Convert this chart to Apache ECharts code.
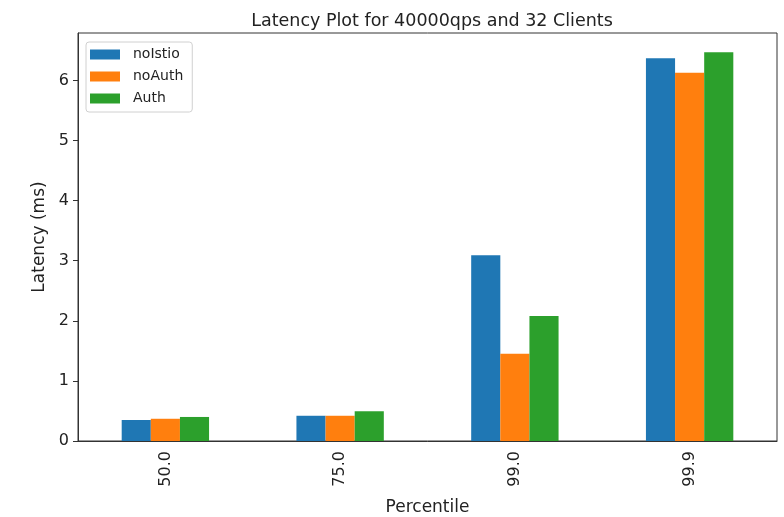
<!DOCTYPE html>
<html>
<head>
<meta charset="utf-8">
<script src="https://cdn.jsdelivr.net/npm/echarts@6/dist/echarts.min.js"></script>
<style>
  html, body { margin: 0; padding: 0; background: #fff; }
  #chart { width: 784px; height: 517px; }
</style>
</head>
<body>
<div id="chart"></div>
<script>
// Latency percentiles (ms) per deployment mode
const percentiles = ['50.0', '75.0', '99.0', '99.9'];
const noIstio = [0.35, 0.42, 3.09, 6.37];
const noAuth  = [0.37, 0.42, 1.45, 6.13];
const auth    = [0.40, 0.495, 2.08, 6.47];
const yTicks  = [0, 1, 2, 3, 4, 5, 6];

const FONT = 'DejaVu Sans';
const chart = echarts.init(document.getElementById('chart'), null, { renderer: 'canvas' });

function barSeries(name, data, color) {
  return {
    name: name,
    type: 'bar',
    data: data,
    barGap: '0%',
    barCategoryGap: '50%',
    itemStyle: { color: color },
    emphasis: { disabled: true }
  };
}

chart.setOption({
  animation: false,
  title: {
    text: 'Latency Plot for 40000qps and 32 Clients',
    left: 427,
    textAlign: 'center',
    top: 7,
    textStyle: { fontFamily: FONT, fontSize: 17.5, fontWeight: 'normal', color: '#222' }
  },
  legend: {
    orient: 'vertical',
    left: 86,
    top: 42,
    itemWidth: 30,
    itemHeight: 10,
    itemGap: 7,
    padding: [5, 9, 6, 4],
    borderColor: '#d0d0d0',
    borderWidth: 1,
    borderRadius: 3,
    icon: 'rect',
    textStyle: { fontFamily: FONT, fontSize: 14, color: '#222', lineHeight: 15, padding: [0, 0, 0, 8] },
    data: ['noIstio', 'noAuth', 'Auth']
  },
  grid: {
    left: 78, right: 7, top: 33, bottom: 76,
    show: true, borderColor: '#333', borderWidth: 1,
    containLabel: false,
    outerBoundsMode: 'none'
  },
  xAxis: {
    type: 'category',
    data: percentiles,
    name: 'Percentile',
    nameLocation: 'middle',
    nameGap: 58,
    nameTextStyle: { fontFamily: FONT, fontSize: 17, color: '#222' },
    axisLine: { lineStyle: { color: '#333' } },
    axisTick: { alignWithLabel: true, length: 5, lineStyle: { color: '#333' } },
    axisLabel: { rotate: 90, fontFamily: FONT, fontSize: 16, color: '#222', margin: 10 }
  },
  yAxis: {
    type: 'value',
    min: 0,
    max: 6.79,
    name: 'Latency (ms)',
    nameLocation: 'middle',
    nameGap: 30,
    nameTextStyle: { fontFamily: FONT, fontSize: 17, color: '#222' },
    axisLine: { show: true, lineStyle: { color: '#333' } },
    axisTick: { show: true, length: 5, lineStyle: { color: '#333' }, customValues: yTicks },
    axisLabel: { fontFamily: FONT, fontSize: 16, color: '#222', margin: 9, customValues: yTicks },
    splitLine: { show: false }
  },
  series: [
    barSeries('noIstio', noIstio, '#1f77b4'),
    barSeries('noAuth', noAuth, '#ff7f0e'),
    barSeries('Auth', auth, '#2ca02c')
  ]
});
</script>
</body>
</html>
